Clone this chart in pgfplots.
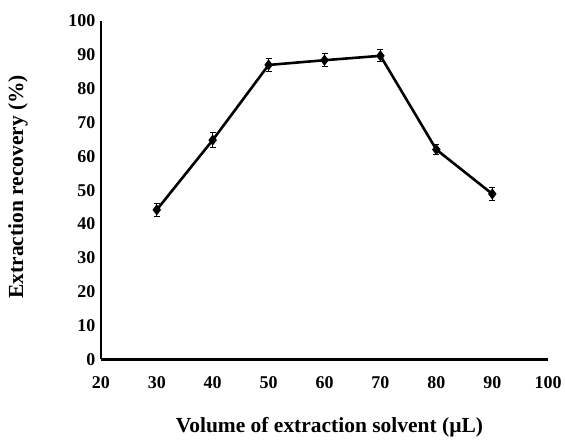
\documentclass[border=0pt]{standalone}
\usepackage{pgfplots}
\pgfplotsset{compat=1.18}
\usepackage{fontspec}
\setmainfont{Liberation Serif}

\begin{document}
\begin{tikzpicture}
\begin{axis}[
    width=448pt, height=339pt,
    scale only axis,
    xmin=20, xmax=100, ymin=0, ymax=100,
    xtick={20,30,...,100},
    ytick={0,10,...,100},
    axis x line=bottom, axis y line=left,
    axis line style={-, line width=2.2pt},
    major tick length=0pt,
    tick label style={font=\fontsize{18}{20}\selectfont\bfseries},
    /pgf/number format/assume math mode=true,
    xticklabel style={yshift=-14pt},
    yticklabel style={xshift=-2pt},
    label style={font=\fontsize{21.5}{25}\selectfont\bfseries},
    xlabel={Volume of extraction solvent (\textmu L)},
    ylabel={Extraction recovery (\%)},
    xlabel style={at={(axis description cs:0.511,-0.2)}, anchor=center},
    ylabel style={at={(axis description cs:-0.185,0.51)}, anchor=center},
    clip=false,
]
\addplot[black, line width=2.6pt, mark=diamond*, mark size=3.5pt,
    error bars/.cd, y dir=both, y explicit,
    error bar style={line width=1pt}, error mark options={rotate=90, mark size=3pt, line width=1pt}]
    coordinates {
    (30,44.2) +- (0,2)
    (40,64.8) +- (0,2.2)
    (50,87.0) +- (0,1.8)
    (60,88.4) +- (0,2)
    (70,89.7) +- (0,1.8)
    (80,62.0) +- (0,1.5)
    (90,48.9) +- (0,1.8)
};
\path (rel axis cs:-0.2254,-0.2507) rectangle (rel axis cs:1.0357,1.0619);
\end{axis}
\end{tikzpicture}
\end{document}
